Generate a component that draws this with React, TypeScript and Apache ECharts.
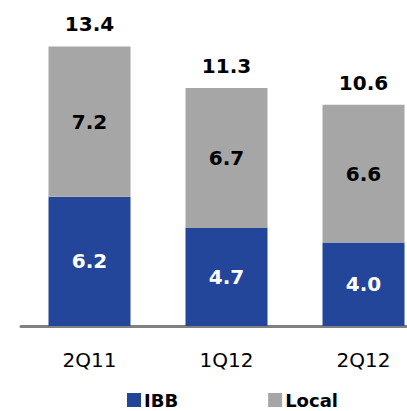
import React, { useEffect, useRef } from "react";
import * as echarts from "echarts";

const categories = ["2Q11", "1Q12", "2Q12"];
const ibbValues = [6.2, 4.7, 4.0];
const localValues = [7.2, 6.7, 6.6];
const totalValues = [13.4, 11.3, 10.6];

export default function App() {
  const ref = useRef<HTMLDivElement>(null);
  useEffect(() => {
    if (!ref.current) return;
    const chart = echarts.init(ref.current, undefined, { renderer: "svg" });
    const font = "DejaVu Sans";
    chart.setOption({
      animation: false,
      textStyle: { fontFamily: font },
      grid: { left: 21, top: 13, width: 411, height: 313 },
      legend: {
        data: ["IBB", "Local"],
        left: 127,
        top: 391,
        padding: 0,
        itemWidth: 14,
        itemHeight: 14,
        itemGap: 90,
        icon: "rect",
        textStyle: { fontFamily: font, fontWeight: "bold", fontSize: 18, color: "#000", padding: [0, 0, 0, -2] },
      },
      xAxis: {
        type: "category",
        data: categories,
        axisLine: { lineStyle: { color: "#808080", width: 3 } },
        axisTick: { show: false },
        axisLabel: { color: "#000", fontSize: 20, fontFamily: font, margin: 24 },
      },
      yAxis: { type: "value", min: 0, max: 15, show: false, splitLine: { show: false } },
      series: [
        {
          name: "IBB",
          type: "bar",
          stack: "a",
          barWidth: 82,
          data: ibbValues,
          itemStyle: { color: "#23459A" },
          label: {
            show: true,
            position: "inside",
            color: "#fff",
            fontWeight: "bold",
            fontSize: 20,
            fontFamily: font,
            formatter: (p: any) => p.value.toFixed(1),
          },
        },
        {
          name: "Local",
          type: "bar",
          stack: "a",
          barWidth: 82,
          data: localValues,
          itemStyle: { color: "#A6A6A6" },
          label: {
            show: true,
            position: "inside",
            color: "#000",
            fontWeight: "bold",
            fontSize: 20,
            fontFamily: font,
            formatter: (p: any) => p.value.toFixed(1),
          },
        },
        {
          name: "Total",
          type: "bar",
          stack: "a",
          barWidth: 82,
          data: totalValues.map(() => 0),
          itemStyle: { color: "transparent" },
          label: {
            show: true,
            position: "top",
            distance: 12,
            color: "#000",
            fontWeight: "bold",
            fontSize: 20,
            fontFamily: font,
            formatter: (p: any) => totalValues[p.dataIndex].toFixed(1),
          },
        },
      ],
    });
    return () => chart.dispose();
  }, []);
  return (
    <div style={{ width: 407, height: 411, position: "absolute", left: 0, top: 0, overflow: "hidden" }}>
      <div ref={ref} style={{ width: 440, height: 411 }} />
    </div>
  );
}
